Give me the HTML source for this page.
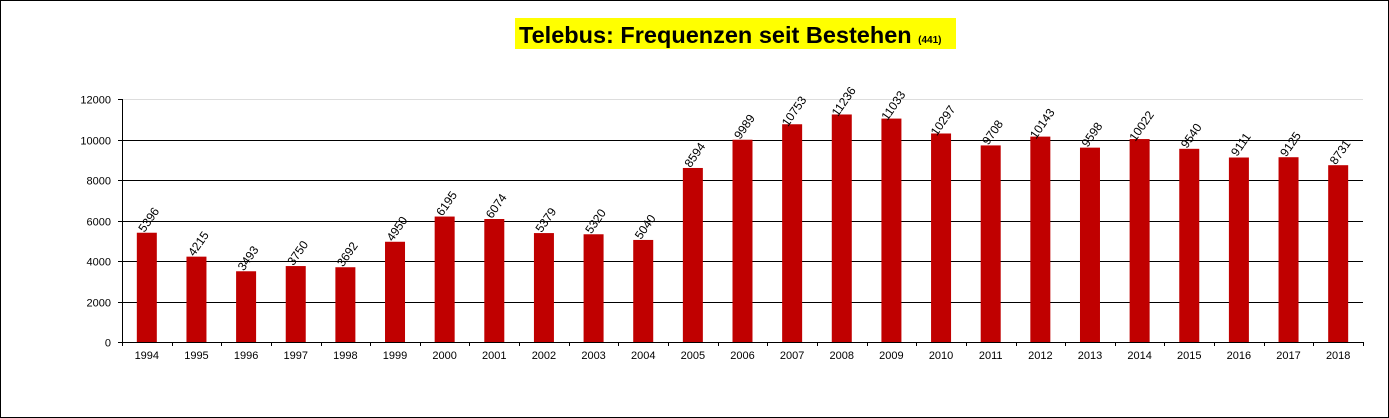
<!DOCTYPE html>
<html><head><meta charset="utf-8"><style>
html,body{margin:0;padding:0;background:#fff}
svg{display:block}
</style></head><body>
<svg width="1389" height="418" viewBox="0 0 1389 418" xmlns="http://www.w3.org/2000/svg" font-family="Liberation Sans, Arial, sans-serif">
<rect x="0.5" y="0.5" width="1388" height="417" fill="#fff" stroke="#000"/>
<rect x="515" y="18" width="441" height="31" fill="#ffff00"/>
<text x="519" y="43" font-size="23.5" font-weight="bold">Telebus: Frequenzen seit Bestehen <tspan font-size="10">(441)</tspan></text>
</svg>
<script>
const vals=[5396,4215,3493,3750,3692,4950,6195,6074,5379,5320,5040,8594,9989,10753,11236,11033,10297,9708,10143,9598,10022,9540,9111,9125,8731];
const ns="http://www.w3.org/2000/svg";
const svg=document.querySelector('svg');
function el(t,a,txt){const e=document.createElementNS(ns,t);for(const k in a)e.setAttribute(k,a[k]);if(txt!==undefined)e.textContent=txt;svg.appendChild(e);return e;}
const L=122,R=1363,T=99,B=342,w=(R-L)/25;
const y=v=>B-v*(B-T)/12000;
for(let v=0;v<=12000;v+=2000){
 const yy=Math.round(y(v))+0.5;
 if(v>0) el('line',{x1:L,x2:R,y1:yy,y2:yy,stroke:v==12000?'#ddd':'#000','stroke-width':1});
 el('line',{x1:L-4,x2:L,y1:yy,y2:yy,stroke:'#000'});
 el('text',{x:L-11,y:yy+4,'font-size':11,'text-anchor':'end'},v);
}
vals.forEach((v,i)=>{
 const cx=L+w*(i+0.5);
 el('rect',{x:cx-10,y:y(v),width:20,height:B-y(v),fill:'#c00000'});
 el('text',{x:cx,y:359,'font-size':11,'text-anchor':'middle'},1994+i);
 const tx=Math.round(L+w*i)+0.5;
 el('line',{x1:tx,x2:tx,y1:B,y2:B+4,stroke:'#000'});
 const ty=y(v)-13, px=cx+2;
 el('text',{x:px,y:ty,'font-size':12,'text-anchor':'middle','dominant-baseline':'central',transform:`rotate(-55 ${px} ${ty})`},v);
});
el('line',{x1:R+0.5,x2:R+0.5,y1:B,y2:B+4,stroke:'#000'});
el('line',{x1:L+0.5,x2:L+0.5,y1:T,y2:B+4,stroke:'#000'});
el('line',{x1:L,x2:R,y1:B+0.5,y2:B+0.5,stroke:'#000'});
</script>
</body></html>
